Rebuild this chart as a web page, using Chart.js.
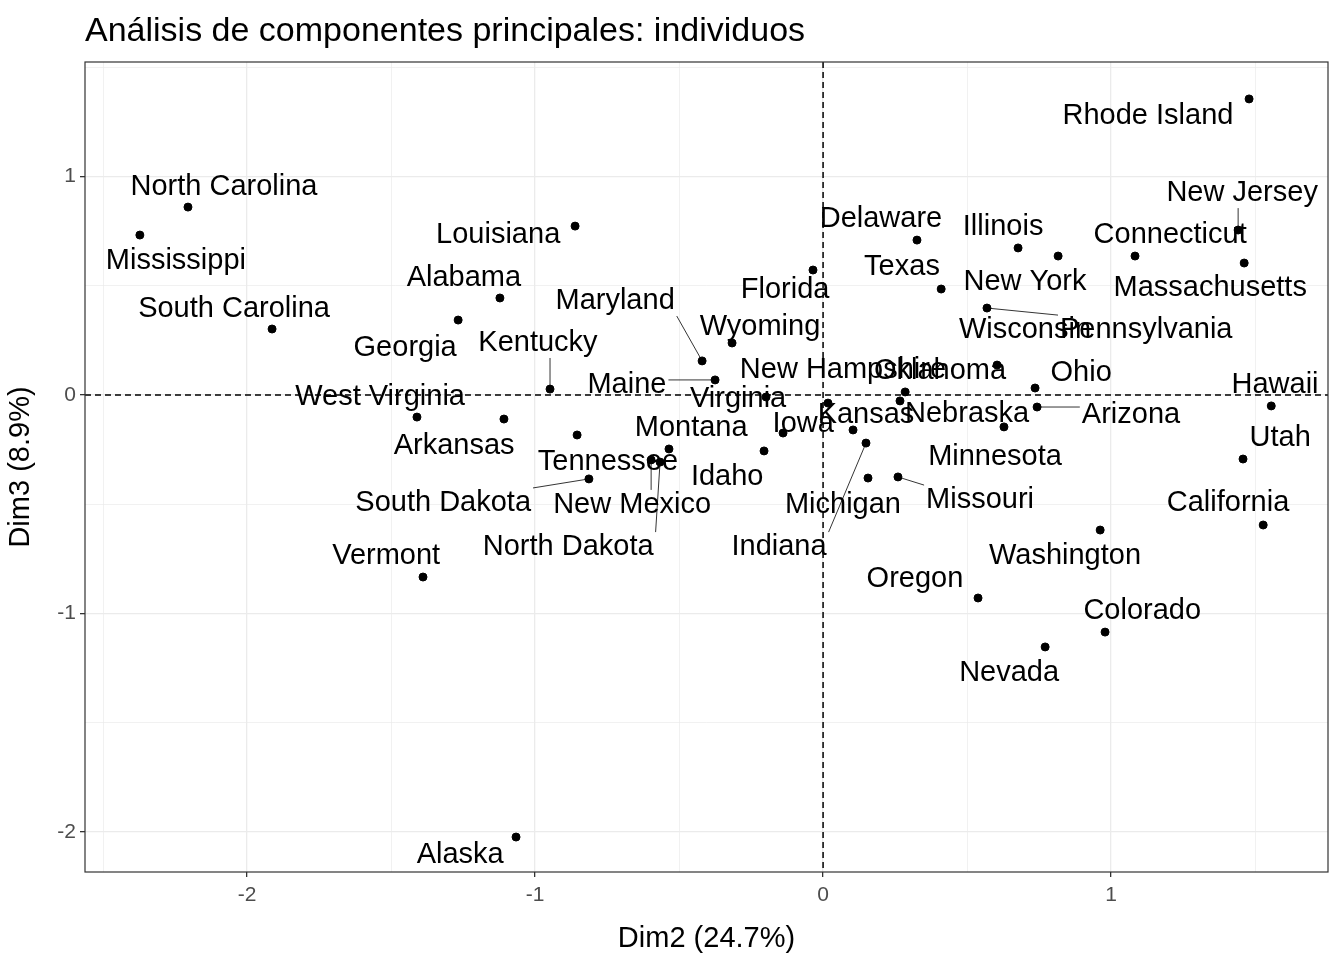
<!DOCTYPE html>
<html lang="es">
<head>
<meta charset="UTF-8">
<title>Análisis de componentes principales: individuos</title>
<script src="https://cdn.jsdelivr.net/npm/chart.js"></script>
<style>
  body { margin: 0; background: #fff; }
  canvas { display: block; }
</style>
</head>
<body>
<canvas id="pca" width="1344" height="960"></canvas>
<script>
// estados, coordenadas (Dim2, Dim3) y posición de la etiqueta (en unidades de datos)
const states = ['North Carolina','Mississippi','South Carolina','Louisiana','Alabama','Georgia','Kentucky','West Virginia','Arkansas','Tennessee',
  'South Dakota','New Mexico','North Dakota','Montana','Vermont','Alaska','Maryland','Maine','Wyoming','Virginia',
  'Florida','Idaho','Iowa','New Hampshire','Kansas','Indiana','Michigan','Missouri','Oklahoma','Nebraska',
  'Delaware','Texas','Illinois','New York','Connecticut','Pennsylvania','Wisconsin','Ohio','Arizona','Minnesota',
  'Rhode Island','New Jersey','Massachusetts','Hawaii','Utah','California','Washington','Oregon','Colorado','Nevada'];
const dim2 = [-2.205,-2.372,-1.913,-0.861,-1.122,-1.267,-0.948,-1.410,-1.108,-0.854,
  -0.813,-0.597,-0.566,-0.535,-1.389,-1.066,-0.420,-0.375,-0.316,-0.198,
  -0.035,-0.205,-0.139,0.017,0.104,0.149,0.156,0.260,0.285,0.267,
  0.326,0.410,0.677,0.816,1.083,0.569,0.604,0.736,0.743,0.628,
  1.479,1.441,1.462,1.556,1.458,1.528,0.962,0.538,0.979,0.771];
const dim3 = [0.860,0.732,0.302,0.773,0.444,0.343,0.027,-0.101,-0.110,-0.183,
  -0.384,-0.297,-0.307,-0.247,-0.833,-2.023,0.156,0.069,0.238,-0.009,
  0.572,-0.256,-0.174,-0.037,-0.160,-0.220,-0.380,-0.375,0.014,-0.027,
  0.709,0.485,0.673,0.636,0.636,0.398,0.137,0.032,-0.055,-0.146,
  1.355,0.755,0.604,-0.050,-0.293,-0.595,-0.618,-0.929,-1.085,-1.153];
const labelX = [-2.080,-2.247,-2.045,-1.128,-1.247,-1.451,-0.990,-1.538,-1.281,-0.747,
  -1.319,-0.663,-0.885,-0.458,-1.517,-1.260,-0.722,-0.681,-0.219,-0.295,
  -0.132,-0.333,-0.069,0.069,0.149,-0.153,0.069,0.545,0.406,0.500,
  0.201,0.274,0.625,0.701,1.205,1.122,0.701,0.896,1.069,0.597,
  1.128,1.455,1.344,1.569,1.587,1.406,0.840,0.319,1.108,0.646];
const labelY = [0.952,0.613,0.394,0.732,0.535,0.215,0.238,-0.009,-0.233,-0.307,
  -0.494,-0.503,-0.696,-0.151,-0.737,-2.105,0.430,0.046,0.311,-0.018,
  0.481,-0.375,-0.133,0.114,-0.092,-0.696,-0.503,-0.481,0.110,-0.087,
  0.805,0.586,0.769,0.517,0.732,0.297,0.297,0.101,-0.092,-0.284,
  1.277,0.924,0.490,0.046,-0.197,-0.494,-0.737,-0.842,-0.989,-1.272];
const xTicks = [-2, -1, 0, 1];
const yTicks = [-2, -1, 0, 1];

const FONT = '"Liberation Sans", Arial, sans-serif';

const decor = {
  id: 'decor',
  beforeDatasetsDraw(chart) {
    const { ctx, chartArea: a, scales: { x, y } } = chart;
    ctx.save();
    ctx.strokeStyle = '#000';
    ctx.lineWidth = 1.5;
    ctx.setLineDash([6, 4]);
    ctx.beginPath();
    ctx.moveTo(a.left, y.getPixelForValue(0)); ctx.lineTo(a.right, y.getPixelForValue(0));
    ctx.moveTo(x.getPixelForValue(0), a.top); ctx.lineTo(x.getPixelForValue(0), a.bottom);
    ctx.stroke();
    ctx.restore();
  },
  afterDatasetsDraw(chart) {
    const { ctx, chartArea: a, scales: { x, y } } = chart;
    ctx.save();
    ctx.font = '29px ' + FONT;
    ctx.textAlign = 'center';
    ctx.textBaseline = 'middle';
    states.forEach((s, i) => {
      const px = x.getPixelForValue(dim2[i]), py = y.getPixelForValue(dim3[i]);
      const lx = x.getPixelForValue(labelX[i]), ly = y.getPixelForValue(labelY[i]);
      const w = ctx.measureText(s).width / 2 + 2, h = 15;
      const cx = Math.max(lx - w, Math.min(px, lx + w));
      const cy = Math.max(ly - h, Math.min(py, ly + h));
      if (Math.hypot(px - cx, py - cy) > 20) {
        ctx.strokeStyle = '#000';
        ctx.lineWidth = 0.8;
        ctx.beginPath(); ctx.moveTo(px, py); ctx.lineTo(cx, cy); ctx.stroke();
      }
      ctx.fillStyle = '#000';
      ctx.fillText(s, lx, ly);
    });
    // borde del panel
    ctx.strokeStyle = '#333';
    ctx.lineWidth = 1.2;
    ctx.strokeRect(a.left, a.top, a.right - a.left, a.bottom - a.top);
    // título
    ctx.font = '34px ' + FONT;
    ctx.textAlign = 'left';
    ctx.textBaseline = 'alphabetic';
    ctx.fillText('Análisis de componentes principales: individuos', 85, 41);
    ctx.restore();
  }
};

const gridOpts = {
  color: '#ebebeb',
  lineWidth: c => (Number.isInteger(c.tick.value) ? 1.3 : 0.7),
  drawTicks: true,
  tickLength: 5,
  tickColor: c => (Number.isInteger(c.tick.value) ? '#333' : 'rgba(0,0,0,0)')
};
const tickCb = v => (Number.isInteger(v) && (xTicks.includes(v) || yTicks.includes(v)) ? String(v) : '');

new Chart(document.getElementById('pca'), {
  type: 'scatter',
  data: {
    datasets: [{
      data: states.map((s, i) => ({ x: dim2[i], y: dim3[i] })),
      backgroundColor: '#000',
      borderColor: '#000',
      pointRadius: 4,
      pointHoverRadius: 4
    }]
  },
  options: {
    responsive: false,
    animation: false,
    layout: { padding: { top: 62, right: 16, left: 0, bottom: 0 } },
    plugins: { legend: { display: false }, tooltip: { enabled: false } },
    scales: {
      x: {
        min: -2.5625, max: 1.753,
        afterBuildTicks: s => { s.ticks = [-2.5, -2, -1.5, -1, -0.5, 0, 0.5, 1, 1.5].map(v => ({ value: v })); },
        afterFit: s => { s.height = 88; },
        grid: gridOpts,
        border: { display: false },
        ticks: { callback: tickCb, color: '#4d4d4d', font: { size: 21, family: FONT }, maxRotation: 0, autoSkip: false, padding: 6 },
        title: { display: true, text: 'Dim2 (24.7%)', color: '#000', font: { size: 29, family: FONT }, padding: { top: 0 } }
      },
      y: {
        min: -2.183, max: 1.524,
        afterBuildTicks: s => { s.ticks = [-2, -1.5, -1, -0.5, 0, 0.5, 1, 1.5].map(v => ({ value: v })); },
        afterFit: s => { s.width = 85; },
        grid: gridOpts,
        border: { display: false },
        ticks: { callback: tickCb, color: '#4d4d4d', font: { size: 21, family: FONT }, autoSkip: false, padding: 4 },
        title: { display: true, text: 'Dim3 (8.9%)', color: '#000', font: { size: 29, family: FONT }, padding: { bottom: 2 } }
      }
    }
  },
  plugins: [decor]
});
</script>
</body>
</html>
